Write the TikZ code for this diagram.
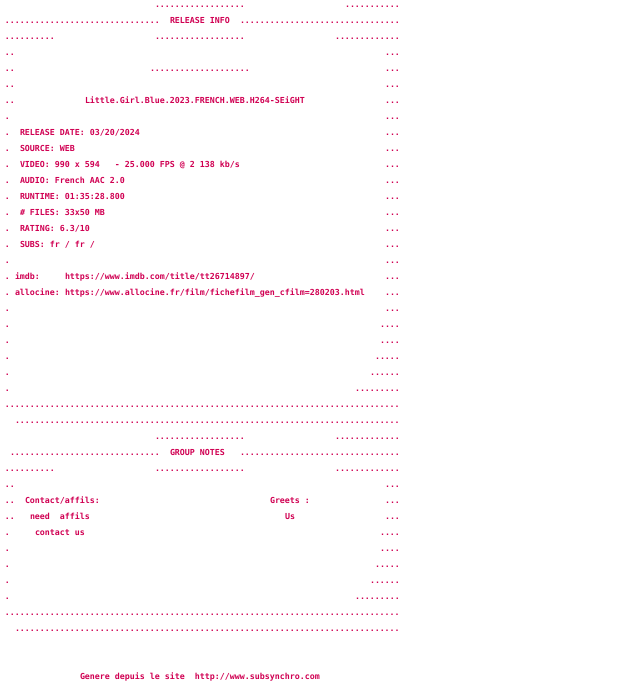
\documentclass[tikz,border=0pt]{standalone}
\usepackage{fontspec}
\setmonofont{DejaVu Sans Mono}
\usepackage{xcolor}
\usepackage{tikz}
\definecolor{nfored}{RGB}{208,0,82}
\newcommand{\dotrun}[1]{\foreach \k in {1,...,#1}{.}}
\newcommand{\nfo}[3]{\node[nfo] (r#1c#2) at ({5*#2},{-7.5-16*#1}) {#3};}

\begin{document}
\begin{tikzpicture}[x=1pt,y=1pt,
  nfo/.style={anchor=base west,inner sep=0pt,outer sep=0pt,text=nfored,
    font=\ttfamily\bfseries\fontsize{8.3}{16}\selectfont}]
\useasboundingbox (0,0) rectangle (640,-688);
% release info header
\nfo{0}{31}{\dotrun{18}} \nfo{0}{69}{\dotrun{11}}
\nfo{1}{1}{\dotrun{31}} \nfo{1}{34}{RELEASE INFO} \nfo{1}{48}{\dotrun{32}}
\nfo{2}{1}{\dotrun{10}} \nfo{2}{31}{\dotrun{18}} \nfo{2}{67}{\dotrun{13}}
\nfo{3}{1}{..} \nfo{3}{77}{...}
\nfo{4}{1}{..} \nfo{4}{30}{\dotrun{20}} \nfo{4}{77}{...}
\nfo{5}{1}{..} \nfo{5}{77}{...}
\nfo{6}{1}{..} \nfo{6}{17}{Little.Girl.Blue.2023.FRENCH.WEB.H264-SEiGHT} \nfo{6}{77}{...}
% release details
\foreach \r in {7,...,18} {\nfo{\r}{1}{.} \nfo{\r}{77}{...}}
\nfo{8}{4}{RELEASE DATE: 03/20/2024}
\nfo{9}{4}{SOURCE: WEB}
\nfo{10}{4}{VIDEO: 990 x 594~~~- 25.000 FPS @ 2 138 kb/s}
\nfo{11}{4}{AUDIO: French AAC 2.0}
\nfo{12}{4}{RUNTIME: 01:35:28.800}
\nfo{13}{4}{\# FILES: 33x50 MB}
\nfo{14}{4}{RATING: 6.3/10}
\nfo{15}{4}{SUBS: fr / fr /}
\nfo{17}{3}{imdb:} \nfo{17}{13}{https://www.imdb.com/title/tt26714897/}
\nfo{18}{3}{allocine:} \nfo{18}{13}{https://www.allocine.fr/film/fichefilm\_gen\_cfilm=280203.html}
% closing border
\nfo{19}{1}{.} \nfo{19}{77}{...}
\nfo{20}{1}{.} \nfo{20}{76}{....}
\nfo{21}{1}{.} \nfo{21}{76}{....}
\nfo{22}{1}{.} \nfo{22}{75}{.....}
\nfo{23}{1}{.} \nfo{23}{74}{......}
\nfo{24}{1}{.} \nfo{24}{71}{\dotrun{9}}
\nfo{25}{1}{\dotrun{79}}
\nfo{26}{3}{\dotrun{77}}
% group notes header
\nfo{27}{31}{\dotrun{18}} \nfo{27}{67}{\dotrun{13}}
\nfo{28}{2}{\dotrun{30}} \nfo{28}{34}{GROUP NOTES} \nfo{28}{48}{\dotrun{32}}
\nfo{29}{1}{\dotrun{10}} \nfo{29}{31}{\dotrun{18}} \nfo{29}{67}{\dotrun{13}}
\nfo{30}{1}{..} \nfo{30}{77}{...}
\nfo{31}{1}{..} \nfo{31}{5}{Contact/affils:} \nfo{31}{54}{Greets :} \nfo{31}{77}{...}
\nfo{32}{1}{..} \nfo{32}{6}{need~~affils} \nfo{32}{57}{Us} \nfo{32}{77}{...}
\nfo{33}{1}{.} \nfo{33}{7}{contact us} \nfo{33}{76}{....}
\nfo{34}{1}{.} \nfo{34}{76}{....}
\nfo{35}{1}{.} \nfo{35}{75}{.....}
\nfo{36}{1}{.} \nfo{36}{74}{......}
\nfo{37}{1}{.} \nfo{37}{71}{\dotrun{9}}
\nfo{38}{1}{\dotrun{79}}
\nfo{39}{3}{\dotrun{77}}
% footer
\nfo{42}{16}{Genere depuis le site~~http://www.subsynchro.com}
\end{tikzpicture}
\end{document}
